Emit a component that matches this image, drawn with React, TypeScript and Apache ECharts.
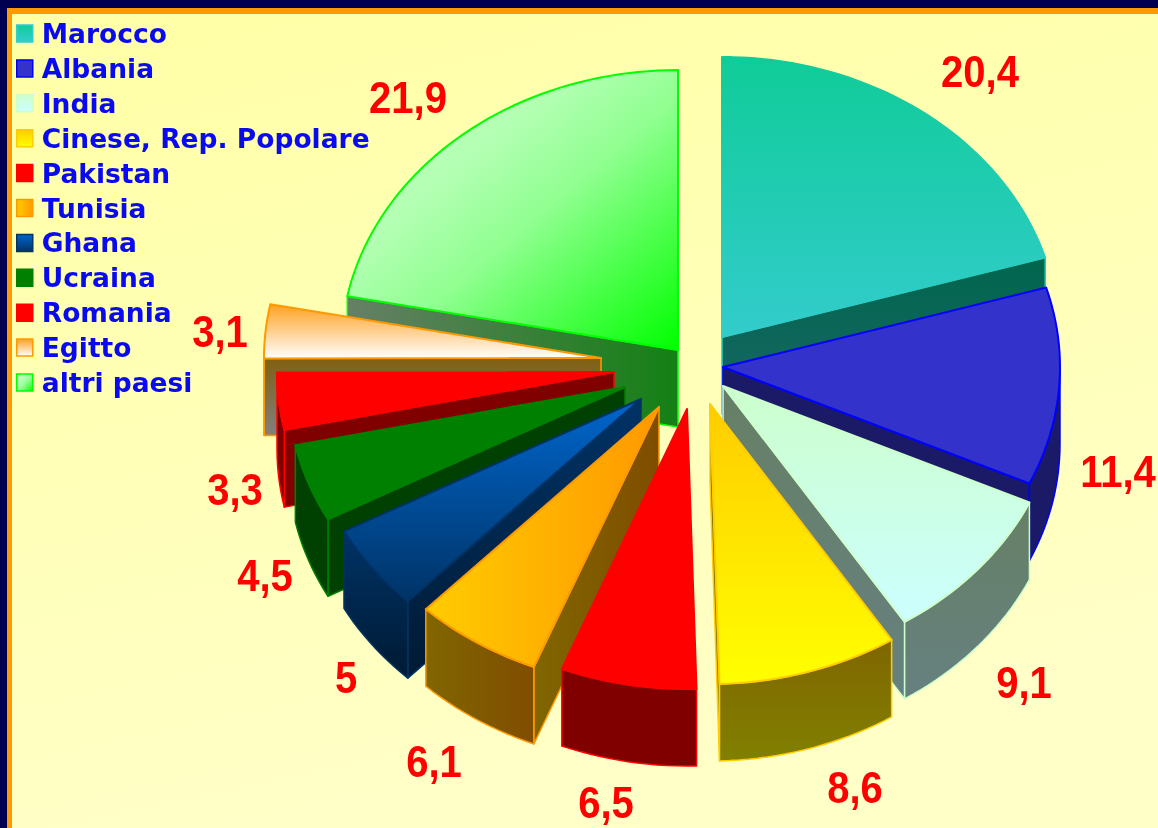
import React, { useEffect, useRef } from "react";
import * as echarts from "echarts";

// ---- data ----
const categories = ["Marocco", "Albania", "India", "Cinese, Rep. Popolare", "Pakistan", "Tunisia", "Ghana", "Ucraina", "Romania", "Egitto", "altri paesi"];
const shares = [20.4, 11.4, 9.1, 8.6, 6.5, 6.1, 5, 4.5, 3.3, 3.1, 21.9];

// ---- layout (pixels), one entry per category ----
const apexX = [722, 723, 723, 710, 687, 659, 641, 625, 614, 601, 678];
const apexY = [337, 367, 386, 404, 409, 407, 399, 387, 372, 358, 350];
const labelX = [980, 1118, 1024, 855, 606, 434, 346, 265, 235, 220, 408];
const labelY = [72, 472, 683, 788, 803, 762, 678, 576, 490, 332, 98];
const paintOrder = [10, 9, 8, 7, 6, 5, 0, 1, 2, 3, 4];
const RX = 337;
const RY = 280;
const DEPTH = 77;

// ---- styles ----
type Grad = { stops: [number, string][]; x2: number; y2: number };
const V = (a: string, b: string): Grad => ({ stops: [[0, a], [1, b]], x2: 0, y2: 1 });
const H = (a: string, b: string): Grad => ({ stops: [[0, a], [1, b]], x2: 1, y2: 0 });
const topFills: Grad[] = [
  V("#10cc99", "#33cccc"), V("#3333cc", "#3333cc"), V("#ccffcc", "#ccffff"), V("#ffcc00", "#ffff00"),
  V("#ff0000", "#ff0000"), H("#ffcc00", "#ff9900"), V("#0066cc", "#003366"), V("#008000", "#008000"),
  V("#ff0000", "#ff0000"), V("#ffa020", "#ffffff"),
  { stops: [[0, "#ccffcc"], [0.35, "#b2ffb2"], [0.55, "#90ff90"], [1, "#00ff00"]], x2: 1, y2: 1 },
];
const wallFills: Grad[] = [
  V("#00664d", "#1a6666"), V("#1a1a66", "#1a1a66"), V("#668066", "#668080"), V("#806600", "#808000"),
  V("#800000", "#800000"), H("#806600", "#804d00"), V("#003366", "#001a33"), V("#004000", "#004000"),
  V("#800000", "#800000"), V("#806010", "#808080"), H("#668066", "#148014"),
];
const borders = ["#33cccc", "#0000ff", "#ccffcc", "#ffcc00", "#ff0000", "#ff9900", "#003366", "#008000", "#ff0000", "#ff9900", "#00ff00"];

const toFill = (g: Grad) => ({
  type: "linear", x: 0, y: 0, x2: g.x2, y2: g.y2, global: false,
  colorStops: g.stops.map(([offset, color]) => ({ offset, color })),
});

const total = shares.reduce((s, v) => s + v, 0);
const startShare = shares.map((_, i) => shares.slice(0, i).reduce((s, v) => s + v, 0));

function buildSlice(i: number, value: number) {
  const a0 = (startShare[i] / total) * Math.PI * 2;
  const a1 = a0 + (value / total) * Math.PI * 2;
  const ox = apexX[i];
  const oy = apexY[i];
  const rim = (a: number, drop = 0) => [ox + RX * Math.sin(a), oy - RY * Math.cos(a) + drop];
  const arc = (from: number, to: number, drop = 0) => {
    const n = Math.max(2, Math.ceil(Math.abs(to - from) / 0.03));
    const pts: number[][] = [];
    for (let k = 0; k <= n; k++) pts.push(rim(from + ((to - from) * k) / n, drop));
    return pts;
  };
  const edge = i === 0 ? toFill(topFills[0]) : borders[i];
  const wallStyle = { fill: toFill(wallFills[i]), stroke: edge, lineWidth: 1.5, lineJoin: "round" };
  const children: any[] = [];
  const cut = (a: number) => ({
    type: "polygon",
    shape: { points: [[ox, oy], rim(a), rim(a, DEPTH), [ox, oy + DEPTH]] },
    style: wallStyle,
  });
  const PI = Math.PI;
  if (a1 < PI) children.push(cut(a1));
  if (a0 >= PI - 0.01) children.push(cut(a0));
  const v0 = Math.max(a0, PI / 2);
  const v1 = Math.min(a1, (3 * PI) / 2);
  if (v1 > v0) {
    children.push({
      type: "polygon",
      shape: { points: [...arc(v0, v1), ...arc(v0, v1, DEPTH).reverse()] },
      style: wallStyle,
    });
  }
  children.push({
    type: "polygon",
    shape: { points: [[ox, oy], ...arc(a0, a1)] },
    style: { fill: toFill(topFills[i]), stroke: edge, lineWidth: 2, lineJoin: "round" },
  });
  children.push({
    type: "text",
    x: labelX[i],
    y: labelY[i],
    scaleX: 0.91,
    style: {
      text: String(value).replace(".", ","),
      fill: "#ff0000",
      fontFamily: "'Liberation Sans'",
      fontWeight: "bold",
      fontSize: 44,
      textAlign: "center",
      textVerticalAlign: "middle",
    },
  });
  return { type: "group", children };
}

export default function App() {
  const ref = useRef<HTMLDivElement>(null);
  useEffect(() => {
    const chart = echarts.init(ref.current!, undefined, { renderer: "svg" });
    chart.setOption({
      animation: false,
      graphic: [
        { type: "rect", z: -3, silent: true, shape: { x: 0, y: 0, width: 1158, height: 828 }, style: { fill: "#000050" } },
        { type: "rect", z: -2, silent: true, shape: { x: 7, y: 8, width: 1151, height: 820 }, style: { fill: "#ff9900" } },
        {
          type: "rect", z: -1, silent: true, shape: { x: 12, y: 14, width: 1146, height: 814 },
          style: { fill: { type: "linear", x: 0, y: 0, x2: 0.3, y2: 1, colorStops: [{ offset: 0, color: "#ffffa6" }, { offset: 1, color: "#ffffc8" }] } },
        },
      ],
      legend: {
        orient: "vertical",
        left: 16,
        top: 20,
        padding: 0,
        itemWidth: 16,
        itemHeight: 17,
        itemGap: 7.9,
        selectedMode: false,
        textStyle: { color: "#0a0af0", fontFamily: "'DejaVu Sans'", fontWeight: "bold", fontSize: 26.5, padding: [0, 0, 0, 4] },
        data: categories.map((name, i) => ({
          name,
          icon: "rect",
          itemStyle: { color: toFill(topFills[i]), borderColor: borders[i], borderWidth: 1.5 },
        })),
      },
      series: categories.map((name, i) => ({
        type: "custom",
        name,
        coordinateSystem: "none",
        z: 2 + paintOrder.indexOf(i),
        silent: true,
        data: [[shares[i]]],
        itemStyle: { color: borders[i] },
        renderItem: (_p: any, api: any) => buildSlice(i, api.value(0)),
      })),
    });
    return () => chart.dispose();
  }, []);
  return <div ref={ref} style={{ position: "fixed", left: 0, top: 0, width: 1158, height: 828 }} />;
}
